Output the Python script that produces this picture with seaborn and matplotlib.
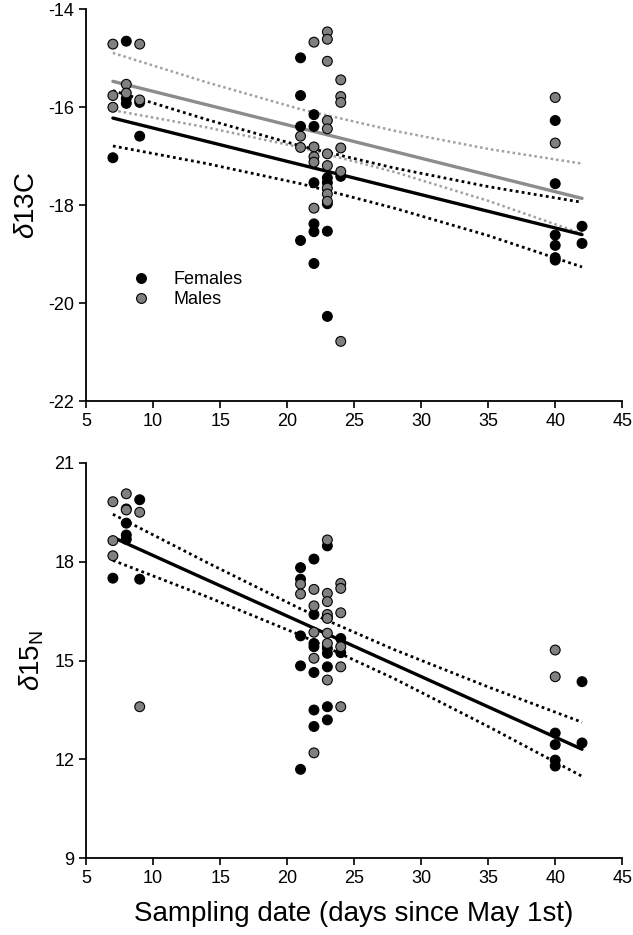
import numpy as np
import pandas as pd
import matplotlib
matplotlib.use('Agg')
from matplotlib import pyplot as plt
import seaborn as sns

# ---- data ----
# delta 13C, females
fem_c_day = [7, 8, 8, 8, 9, 9,
             21, 21, 21, 21,
             22, 22, 22, 22, 22, 22,
             23, 23, 23, 23, 23,
             24,
             40, 40, 40, 40, 40, 40,
             42, 42]
fem_c = [-17.03, -14.65, -15.82, -15.92, -15.90, -16.59,
         -14.99, -15.76, -16.39, -18.72,
         -16.15, -16.39, -17.54, -18.38, -18.54, -19.19,
         -17.44, -17.54, -17.97, -18.53, -20.27,
         -17.41,
         -16.27, -17.56, -18.61, -18.82, -19.07, -19.12,
         -18.43, -18.78]

# delta 13C, males
male_c_day = [7, 7, 7, 8, 8, 9, 9,
              21, 21,
              22, 22, 22, 22, 22,
              23, 23, 23, 23, 23, 23, 23, 23, 23, 23,
              24, 24, 24, 24, 24, 24,
              40, 40]
male_c = [-14.71, -15.76, -16.00, -15.53, -15.71, -14.71, -15.85,
          -16.59, -16.82,
          -14.67, -16.81, -17.01, -17.12, -18.06,
          -14.46, -14.61, -15.06, -16.27, -16.44, -16.95, -17.19, -17.65, -17.77, -17.92,
          -15.44, -15.78, -15.90, -16.83, -17.31, -20.78,
          -15.80, -16.73]

# delta 15N, females
fem_n_day = [7, 8, 8, 8, 8, 9, 9,
             21, 21, 21, 21, 21,
             22, 22, 22, 22, 22, 22, 22,
             23, 23, 23, 23, 23, 23, 23,
             24, 24,
             40, 40, 40, 40,
             42, 42]
fem_n = [17.50, 19.60, 19.17, 18.81, 18.68, 19.88, 17.47,
         17.82, 17.47, 15.75, 14.84, 11.70,
         18.08, 16.40, 15.52, 15.42, 14.64, 13.50, 13.00,
         18.48, 16.30, 15.37, 15.22, 14.81, 13.60, 13.20,
         15.67, 15.24,
         12.80, 12.45, 11.98, 11.80,
         14.36, 12.50]

# delta 15N, males
male_n_day = [7, 7, 7, 8, 8, 9, 9,
              21, 21,
              22, 22, 22, 22, 22,
              23, 23, 23, 23, 23, 23, 23, 23,
              24, 24, 24, 24, 24, 24,
              40, 40]
male_n = [19.82, 18.64, 18.18, 20.06, 19.57, 19.50, 13.60,
          17.32, 17.02,
          17.16, 16.66, 15.86, 15.07, 12.20,
          18.66, 17.04, 16.79, 16.40, 16.28, 15.83, 15.52, 14.41,
          17.34, 17.19, 16.45, 15.42, 14.81, 13.60,
          15.32, 14.51]

# regression lines and 95% confidence bands as drawn in the figure
fit_day = [7, 42]
band_day = [7, 14, 21, 28, 35, 42]
fem_c_fit = [-16.22, -18.60]
fem_c_upper = [-15.66, -16.25, -16.79, -17.24, -17.62, -17.94]
fem_c_lower = [-16.79, -17.15, -17.56, -18.06, -18.62, -19.26]
male_c_fit = [-15.47, -17.86]
male_c_upper = [-14.89, -15.49, -16.04, -16.48, -16.85, -17.15]
male_c_lower = [-16.06, -16.41, -16.82, -17.32, -17.91, -18.58]
all_n_fit = [18.74, 12.31]
all_n_upper = [19.44, 17.98, 16.57, 15.33, 14.20, 13.13]
all_n_lower = [18.04, 16.94, 15.77, 14.45, 13.00, 11.49]

df_c = pd.DataFrame({'day': fem_c_day + male_c_day,
                     'val': fem_c + male_c,
                     'sex': ['Females'] * len(fem_c) + ['Males'] * len(male_c)})
df_n = pd.DataFrame({'day': fem_n_day + male_n_day,
                     'val': fem_n + male_n,
                     'sex': ['Females'] * len(fem_n) + ['Males'] * len(male_n)})

sns.set_style('ticks')
plt.rcParams['font.family'] = ['Liberation Sans', 'DejaVu Sans']
plt.rcParams['mathtext.fontset'] = 'custom'
plt.rcParams['mathtext.rm'] = 'Liberation Sans'
plt.rcParams['mathtext.it'] = 'Liberation Sans:italic'
plt.rcParams['axes.unicode_minus'] = False
plt.rcParams['text.color'] = 'black'
plt.rcParams['axes.labelcolor'] = 'black'
plt.rcParams['xtick.color'] = 'black'
plt.rcParams['ytick.color'] = 'black'

pal = {'Females': 'black', 'Males': '#808080'}
grey_line = '#8c8c8c'
grey_dot = '#a0a0a0'
dots = (0, (1, 1.2))

fig = plt.figure(figsize=(6.33, 9.35), dpi=100)
ax1 = fig.add_axes([0.136, 0.571, 0.847, 0.419])
ax2 = fig.add_axes([0.136, 0.082, 0.847, 0.423])

# top panel
ax1.plot(fit_day, male_c_fit, color=grey_line, lw=2.4, zorder=2)
ax1.plot(band_day, male_c_upper, color=grey_dot, lw=1.8, ls=dots, zorder=2)
ax1.plot(band_day, male_c_lower, color=grey_dot, lw=1.8, ls=dots, zorder=2)
ax1.plot(fit_day, fem_c_fit, color='black', lw=2.4, zorder=2)
ax1.plot(band_day, fem_c_upper, color='black', lw=2.0, ls=dots, zorder=2)
ax1.plot(band_day, fem_c_lower, color='black', lw=2.0, ls=dots, zorder=2)
sns.scatterplot(data=df_c, x='day', y='val', hue='sex', palette=pal, s=50,
                edgecolor='black', linewidth=0.8, ax=ax1, zorder=3)
ax1.set_xlim(5, 45)
ax1.set_ylim(-22, -14)
ax1.set_yticks([-22, -20, -18, -16, -14])
ax1.set_xticks(range(5, 50, 5))
ax1.set_xlabel('')
ax1.set_ylabel(r'$\mathit{\delta}$13C', fontsize=20, labelpad=6)
leg = ax1.legend(loc='upper left', bbox_to_anchor=(0.055, 0.35), frameon=False,
                 fontsize=13, handletextpad=0.8, labelspacing=0.15, borderaxespad=0)

# bottom panel
ax2.plot(fit_day, all_n_fit, color='black', lw=2.4, zorder=2)
ax2.plot(band_day, all_n_upper, color='black', lw=2.0, ls=dots, zorder=2)
ax2.plot(band_day, all_n_lower, color='black', lw=2.0, ls=dots, zorder=2)
sns.scatterplot(data=df_n, x='day', y='val', hue='sex', palette=pal, s=50,
                edgecolor='black', linewidth=0.8, ax=ax2, zorder=3, legend=False)
ax2.set_xlim(5, 45)
ax2.set_ylim(9, 21)
ax2.set_yticks([9, 12, 15, 18, 21])
ax2.set_xticks(range(5, 50, 5))
ax2.set_xlabel('Sampling date (days since May 1st)', fontsize=20, labelpad=10)
ax2.set_ylabel(r'$\mathit{\delta}$15$_{\mathrm{N}}$', fontsize=20, labelpad=6)

for ax in (ax1, ax2):
    sns.despine(ax=ax)
    for sp in ('left', 'bottom'):
        ax.spines[sp].set_linewidth(1.3)
        ax.spines[sp].set_color('black')
    ax.tick_params(direction='out', length=5, width=1.2, labelsize=13)

fig.savefig('out.png', dpi=100)
